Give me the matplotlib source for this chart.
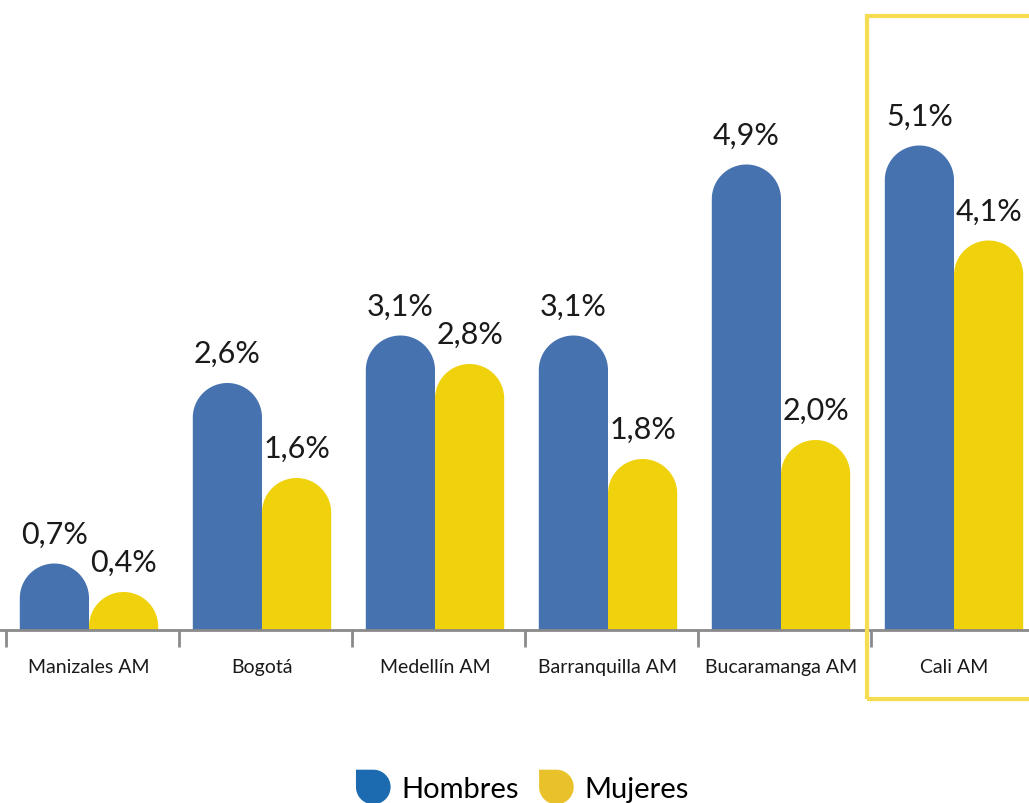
import numpy as np
import matplotlib
matplotlib.use("Agg")
import matplotlib.pyplot as plt
from matplotlib.path import Path
from matplotlib.patches import PathPatch, Rectangle
from matplotlib.legend_handler import HandlerPatch

# data
ciudades = ["Manizales AM", "Bogotá", "Medellín AM", "Barranquilla AM",
            "Bucaramanga AM", "Cali AM"]
hombres = [0.7, 2.6, 3.1, 3.1, 4.9, 5.1]
mujeres = [0.4, 1.6, 2.8, 1.8, 2.0, 4.1]
series_names = ["Hombres", "Mujeres"]

blue = "#4672B0"
yellow = "#F0D20C"
legend_blue = "#1C6AB0"
legend_yellow = "#E9C22B"

plt.rcParams["font.family"] = ["Lato", "DejaVu Sans"]

W, H = 1029, 804
fig = plt.figure(figsize=(W / 100, H / 100), dpi=100)

# axes geometry (pixels)
unit_px = 173.0   # px per category
first_px = 89.0   # px of the first group centre
pct_px = 95.0     # px per percentage point
base_px = 631.0   # baseline from top

ax = fig.add_axes([0, (H - base_px) / H, 1, base_px / H])
ax.set_xlim(-first_px / unit_px, (W - first_px) / unit_px)
ax.set_ylim(0, base_px / pct_px)

bar_w = 0.4
rx_px = bar_w * unit_px / 2
ry = rx_px / pct_px  # radius of the rounded top in data units


def rounded_bar(ax, x0, w, h, color):
    cy = max(h - ry, 0)
    ery = min(ry, h)
    t = np.linspace(np.pi, 0, 60)
    arc_x = x0 + w / 2 + w / 2 * np.cos(t)
    arc_y = cy + ery * np.sin(t)
    verts = [(x0, 0), (x0, cy)] + list(zip(arc_x, arc_y)) + [(x0 + w, 0), (x0, 0)]
    codes = [Path.MOVETO] + [Path.LINETO] * (len(verts) - 2) + [Path.CLOSEPOLY]
    ax.add_patch(PathPatch(Path(verts, codes), facecolor=color,
                           edgecolor="none", zorder=2))


x = np.arange(len(ciudades))
for i in x:
    rounded_bar(ax, i - bar_w, bar_w, hombres[i], blue)
    rounded_bar(ax, i, bar_w, mujeres[i], yellow)
    for xc, v in [(i - bar_w / 2, hombres[i]), (i + bar_w / 2, mujeres[i])]:
        ax.annotate(f"{v:.1f}%".replace(".", ","), (xc, v),
                    xytext=(0, 15), textcoords="offset points",
                    ha="center", va="baseline", fontsize=22,
                    color="#1a1a1a")

# axis line and ticks
for s in ["top", "right", "left"]:
    ax.spines[s].set_visible(False)
ax.spines["bottom"].set_color("#8a8a8a")
ax.spines["bottom"].set_linewidth(2)
ax.set_yticks([])
ax.set_xticks(x - 0.48)
ax.set_xticklabels([])
ax.tick_params(axis="x", which="major", length=12, width=2, color="#8a8a8a")
ax.set_xticks(x, minor=True)
ax.set_xticklabels(ciudades, minor=True)
ax.tick_params(axis="x", which="minor", length=0, pad=20, labelsize=14,
               labelcolor="#1a1a1a")

# highlight box around Cali
fig.add_artist(Rectangle((867 / W, (H - 700) / H), 200 / W, (700 - 17) / H,
                         transform=fig.transFigure, fill=False,
                         edgecolor="#F5DC50", linewidth=3))


# drop shaped legend marker: square top-left corner, rounded elsewhere
class DropHandler(HandlerPatch):
    def create_artists(self, legend, orig_handle, xdescent, ydescent,
                       width, height, fontsize, trans):
        s = min(width, height)
        x0 = -xdescent + (width - s) / 2
        y0 = -ydescent + (height - s) / 2
        r = s / 2
        t = np.linspace(np.pi / 2, -np.pi, 60)
        verts = [(x0, y0 + s)]
        verts += [(x0 + r + r * np.cos(a), y0 + r + r * np.sin(a)) for a in t]
        verts += [(x0, y0 + s)]
        p = PathPatch(Path(verts), facecolor=orig_handle.get_facecolor(),
                      edgecolor="none", transform=trans)
        return [p]


h1 = Rectangle((0, 0), 1, 1, facecolor=legend_blue)
h2 = Rectangle((0, 0), 1, 1, facecolor=legend_yellow)
fig.legend([h1, h2], series_names, loc="center", bbox_to_anchor=(0.506, (H - 788) / H),
           ncol=2, frameon=False, fontsize=21, handlelength=1.45, handleheight=1.45,
           handletextpad=0.25, columnspacing=0.55,
           handler_map={Rectangle: DropHandler()})

fig.savefig("out.png", dpi=100)
